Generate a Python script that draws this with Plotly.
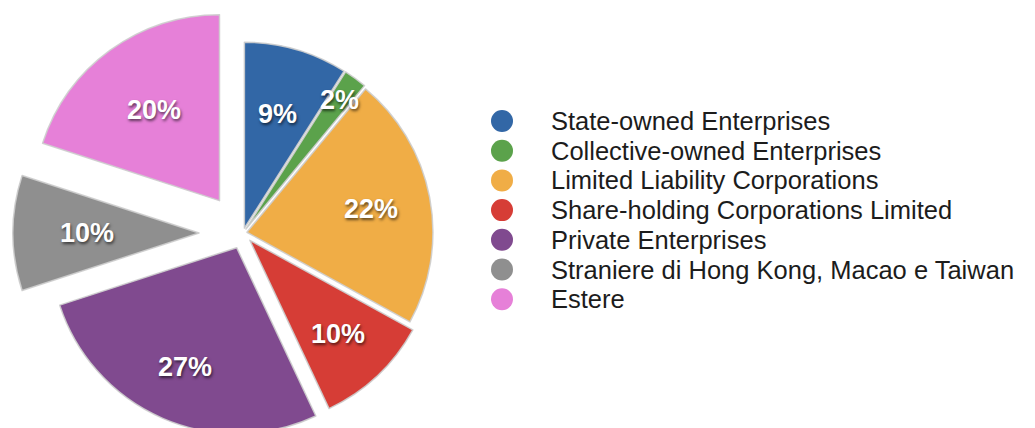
import math
import plotly.graph_objects as go

# ---- data ----
labels = [
    "State-owned Enterprises",
    "Collective-owned Enterprises",
    "Limited Liability Corporations",
    "Share-holding Corporations Limited",
    "Private Enterprises",
    "Straniere di Hong Kong, Macao e Taiwan",
    "Estere",
]
values = [9, 2, 22, 10, 27, 10, 20]

# ---- style ----
colors = ["#3267a6", "#5ba24b", "#f0ad46", "#d63d36", "#804a8f", "#8f8f8f", "#e680d8"]
pull_px = [5, 5, 4, 10, 16, 44, 40]                    # outward offset of each slice (px)
label_r = [0.64, 0.86, 0.68, 0.69, 0.70, 0.60, 0.60]   # label distance as fraction of radius

W, H = 1035, 428
CX, CY, R = 235, 225, 186  # pie centre and radius in pixels

LABEL_FONT = dict(family="Liberation Sans, Arial, sans-serif", size=27,
                  color="white", weight="bold",
                  shadow="1px 2px 3px rgba(0,0,0,0.6)")

fig = go.Figure()
total = sum(values)
cum = 0.0
for i, (lab, v) in enumerate(zip(labels, values)):
    mid = (cum + v / 2) / total
    cum += v
    th = 2 * math.pi * mid
    sx, sy = math.sin(th), -math.cos(th)
    px = CX + pull_px[i] * sx
    py = CY + pull_px[i] * sy
    dom_x = [(px - R) / W, (px + R) / W]
    dom_y = [max(0.0, 1 - (py + R) / H), min(1.0, 1 - (py - R) / H)]
    fig.add_trace(go.Pie(
        labels=labels,
        values=values,
        sort=False,
        direction="clockwise",
        rotation=0,
        domain=dict(x=dom_x, y=dom_y),
        marker=dict(
            colors=[c if j == i else "rgba(0,0,0,0)" for j, c in enumerate(colors)],
            line=dict(color="rgba(205,205,205,0.9)",
                      width=[1.5 if j == i else 0 for j in range(len(values))]),
        ),
        textinfo="none",
        showlegend=False,
        hoverinfo="label+percent",
    ))
    # percentage label of this slice, placed along its bisector
    lx = px + label_r[i] * R * sx
    ly = py + label_r[i] * R * sy
    fig.add_annotation(x=lx / W, y=1 - ly / H, xref="paper", yref="paper",
                       text=f"{round(100 * v / total)}%", showarrow=False,
                       xanchor="center", yanchor="middle", font=LABEL_FONT)

# ---- manual legend (circular markers) ----
LX, LTX, LY0, LDY, LR = 494, 541, 113, 29.7, 11
for i, (lab, c) in enumerate(zip(labels, colors)):
    yc = LY0 + i * LDY
    fig.add_shape(type="circle", xref="paper", yref="paper",
                  x0=(LX - LR) / W, x1=(LX + LR) / W,
                  y0=1 - (yc + LR) / H, y1=1 - (yc - LR) / H,
                  fillcolor=c, line=dict(width=0))
    fig.add_annotation(x=LTX / W, y=1 - yc / H, xref="paper", yref="paper",
                       text=lab, showarrow=False, xanchor="left", yanchor="middle",
                       font=dict(family="Liberation Sans, Arial, sans-serif",
                                 size=25.5, color="#1c1c1c"))

fig.update_layout(
    width=W, height=H,
    margin=dict(l=0, r=0, t=0, b=0),
    paper_bgcolor="white",
    plot_bgcolor="white",
)

fig.write_html("out.html", config={"displayModeBar": False})
